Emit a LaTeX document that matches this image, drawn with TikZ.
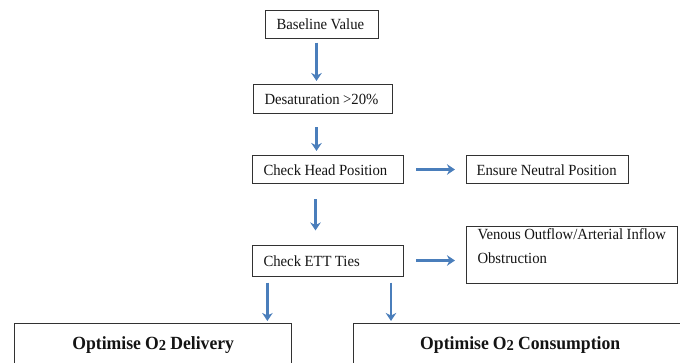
\documentclass[tikz,border=0pt]{standalone}
\usepackage{fontspec}
\setmainfont{Liberation Serif}[FakeStretch=0.95, WordSpace=0.85]
\usetikzlibrary{arrows.meta}

\definecolor{arrowblue}{RGB}{74,126,187}
\definecolor{framegray}{RGB}{50,50,50}
\definecolor{inkgray}{RGB}{20,20,20}

\tikzset{
  stepbox/.style={draw=framegray, line width=1pt, text=inkgray,
    inner xsep=11pt, inner ysep=0pt, anchor=west, align=left,
    font=\fontsize{15.5}{24}\selectfont,
    execute at begin node={\spaceskip=0.22em\relax\hyphenpenalty=10000\relax}},
  bigbox/.style={draw=framegray, line width=1.4pt, text=inkgray,
    inner xsep=0pt, inner ysep=0pt, anchor=north west, align=center,
    text height=25.5pt, text depth=40pt,
    font=\bfseries\fontsize{18.6}{22}\selectfont,
    execute at begin node={\spaceskip=0.22em\relax}},
  flow/.style={draw=arrowblue, line width=3pt,
    -{Stealth[length=8pt,width=10.5pt,inset=2.5pt]}},
  thinflow/.style={flow, line width=2.3pt},
}

% oxygen with its lowered numeral
\newcommand{\Otwo}{O{\fontsize{15.3}{15}\selectfont\raisebox{-1.2pt}{2}}}

\begin{document}
\begin{tikzpicture}[x=1pt,y=-1pt]
  \useasboundingbox (0,0) rectangle (680,362);
  \clip (0,0) rectangle (680,362);

  % main chain
  \node[stepbox, text width=91pt, text height=19.5pt, text depth=8.5pt]
    (base) at (265,24) {Baseline Value};
  \node[stepbox, text width=117pt, text height=20pt, text depth=9pt]
    (desat) at (253,98.5) {Desaturation >20\%};
  \node[stepbox, text width=129pt, text height=20pt, text depth=8pt]
    (head) at (252,169.5) {Check Head Position};
  \node[stepbox, inner xsep=10pt, text width=142pt, text height=20pt, text depth=8pt]
    (ensure) at (466,169.5) {Ensure Neutral Position};
  \node[stepbox, text width=129pt, text height=21pt, text depth=10pt]
    (ett) at (252,260.5) {Check ETT Ties};
  \node[stepbox, text width=189pt, text height=13pt, text depth=44pt,
        anchor=north west]
    (venous) at (466,226) {Venous Outflow/Arterial Inflow\\Obstruction};

  % treatment boxes (run past the lower edge)
  \node[bigbox, minimum width=277pt] (deliv) at (14,323)
    {Optimise \Otwo\ Delivery};
  \node[bigbox, minimum width=340pt, text width=340pt] (cons) at (353,323)
    {\hspace*{-7pt}Optimise \Otwo\ Consumption};

  % connectors
  \draw[flow, shorten <=4pt, shorten >=2.5pt]
    ([xshift=-5.5pt]base.south) -- ([xshift=-5.5pt]base.south |- desat.north);
  \draw[flow, shorten <=13.5pt, shorten >=4pt]
    ([xshift=-6.5pt]desat.south) -- ([xshift=-6.5pt]desat.south |- head.north);
  \draw[flow, shorten <=12pt, shorten >=11pt] (head.east) -- (ensure.west);
  \draw[flow, shorten <=15pt, shorten >=14pt]
    ([xshift=-12.5pt]head.south) -- ([xshift=-12.5pt]head.south |- ett.north);
  \draw[flow, shorten <=12pt, shorten >=11pt] (ett.east) -- (ett.east -| venous.west);
  \draw[thinflow, shorten <=6pt, shorten >=2pt]
    ([xshift=-25pt]deliv.north east |- ett.south) -- ([xshift=-25pt]deliv.north east);
  \draw[thinflow, shorten <=6pt, shorten >=2pt]
    ([xshift=38pt]cons.north west |- ett.south) -- ([xshift=38pt]cons.north west);
\end{tikzpicture}
\end{document}
